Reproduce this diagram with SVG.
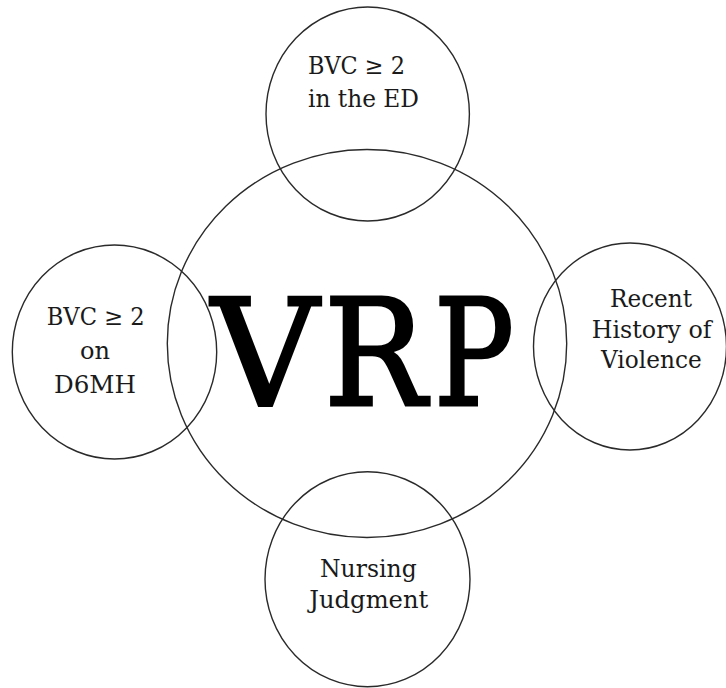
<svg xmlns="http://www.w3.org/2000/svg" width="726" height="688" viewBox="0 0 726 688">
<style>
.c{fill:none;stroke:#2a2a2a;stroke-width:1.4}
.t{font-family:"DejaVu Serif","Liberation Serif",serif;font-size:23.5px;fill:#1a1a1a}
.big{font-family:"DejaVu Serif","Liberation Serif",serif;font-size:147px;fill:#000;stroke:#000;stroke-width:3;stroke-linejoin:miter}
</style>
<rect width="726" height="688" fill="#fff"/>
<g id="vrp">
<ellipse class="c" cx="367" cy="343.5" rx="199.7" ry="194"/>
<text class="big" y="405"><tspan x="211.5" textLength="107" lengthAdjust="spacingAndGlyphs">V</tspan></text>
<text class="big" y="405"><tspan x="324" textLength="102" lengthAdjust="spacingAndGlyphs">R</tspan></text>
<text class="big" y="405"><tspan x="434" textLength="80" lengthAdjust="spacingAndGlyphs">P</tspan></text>
</g>
<g id="bvc-ed">
<ellipse class="c" cx="367.7" cy="114" rx="101.7" ry="107"/>
<text class="t" x="308" y="74" textLength="97" lengthAdjust="spacingAndGlyphs">BVC ≥ 2</text>
<text class="t" x="308" y="107.3" textLength="111" lengthAdjust="spacingAndGlyphs">in the ED</text>
</g>
<g id="bvc-d6mh">
<ellipse class="c" cx="114.5" cy="352" rx="102.2" ry="107"/>
<text class="t" x="46.7" y="325" textLength="98" lengthAdjust="spacingAndGlyphs">BVC ≥ 2</text>
<text class="t" x="80" y="359.3" textLength="30" lengthAdjust="spacingAndGlyphs">on</text>
<text class="t" x="54" y="392.7" textLength="82" lengthAdjust="spacingAndGlyphs">D6MH</text>
</g>
<g id="history">
<ellipse class="c" cx="630" cy="346.5" rx="96.5" ry="103.5"/>
<text class="t" x="610" y="306.7" textLength="82" lengthAdjust="spacingAndGlyphs">Recent</text>
<text class="t" x="591.7" y="337.5" textLength="120" lengthAdjust="spacingAndGlyphs">History of</text>
<text class="t" x="601" y="368.3" textLength="100.7" lengthAdjust="spacingAndGlyphs">Violence</text>
</g>
<g id="nursing">
<ellipse class="c" cx="367.5" cy="579.2" rx="102.5" ry="107.5"/>
<text class="t" x="320" y="577.3" textLength="96.7" lengthAdjust="spacingAndGlyphs">Nursing</text>
<text class="t" x="309.3" y="608.3" textLength="119" lengthAdjust="spacingAndGlyphs">Judgment</text>
</g>
<g id="connectors"></g>
</svg>
